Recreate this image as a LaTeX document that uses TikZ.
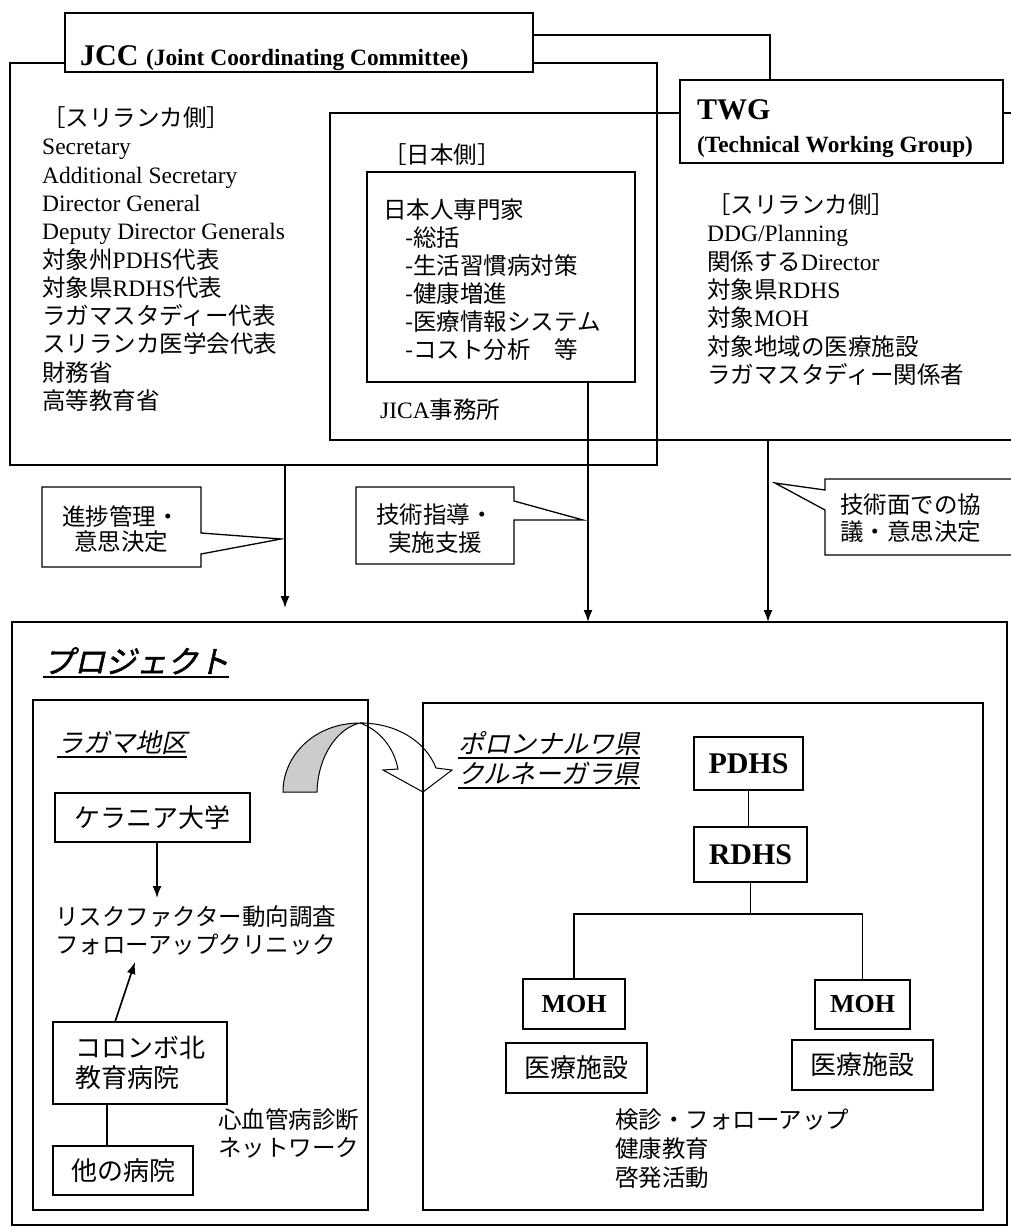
\documentclass[tikz,border=0pt]{standalone}
\usepackage{fontspec}
\setmainfont{Liberation Serif}
\newfontfamily\cjkfont{Noto Sans CJK JP}
\newfontfamily\cjkitfont[FakeSlant=0.22]{Noto Sans CJK JP}
\newfontfamily\cjkbifont[FakeSlant=0.22,FakeBold=1.5]{Noto Sans CJK JP}
\newcommand\cj[1]{{\cjkfont #1}}
\usetikzlibrary{arrows.meta,calc}
\tikzset{
  rbox/.style={draw, line width=1.3pt, inner sep=0pt, outer sep=0pt, anchor=north west},
  lst/.style={anchor=base west, inner sep=0pt, font=\fontsize{23.5}{28}\selectfont},
  ctr/.style={anchor=base, inner sep=0pt, font=\fontsize{23.5}{28}\selectfont},
  bigtxt/.style={font=\fontsize{26}{30}\selectfont\cjkfont},
  arr/.style={line width=1.6pt, -{Latex[length=12pt,width=9pt]}},
  conn/.style={line width=1.2pt},
  thin/.style={line width=1.1pt},
  callout/.style={line width=1.3pt, line join=miter},
}
\begin{document}
\begin{tikzpicture}[x=1pt,y=-1pt]
\fill[white] (0,0) rectangle (1011,1228);
\useasboundingbox (0,0) rectangle (1011,1228);

% ---------- upper part: JCC / TWG ----------
\node[rbox, minimum width=647pt, minimum height=402pt] (jccO) at (10,63) {};
\node[rbox, minimum width=684pt, minimum height=327pt] (twgO) at (330,113) {};
\node[rbox, minimum width=268pt, minimum height=210pt] (jp) at (367,172) {};
\node[rbox, fill=white, minimum width=468pt, minimum height=59pt] (jccT) at (65,13) {};
\node[anchor=base west, inner sep=0pt] (jccL) at (80,66)
  {\bfseries\fontsize{30}{30}\selectfont JCC\ \fontsize{23.4}{24}\selectfont (Joint Coordinating Committee)};
\node[rbox, fill=white, minimum width=323pt, minimum height=83pt] (twgT) at (680,80) {};
\node[anchor=base west, inner sep=0pt, font=\bfseries\fontsize{30}{30}\selectfont] (twgL1) at (697,120) {TWG};
\node[anchor=base west, inner sep=0pt, font=\bfseries\fontsize{23.3}{24}\selectfont] (twgL2) at (697,152) {(Technical Working Group)};

\coordinate (tw) at (770,80);
\draw[conn] ($(jccT.north east)+(0,22)$) -| (tw);

% JCC list
\foreach \t [count=\i from 0] in {
  \cj{［スリランカ側］},
  Secretary,
  Additional Secretary,
  Director General,
  Deputy Director Generals,
  \cj{対象州}PDHS\cj{代表},
  \cj{対象県}RDHS\cj{代表},
  \cj{ラガマスタディー代表},
  \cj{スリランカ医学会代表},
  \cj{財務省},
  \cj{高等教育省}}
  \node[lst] (jl\i) at (42,126.5+28.3*\i) {\t};

% Japan side
\node[lst] (jph) at (383,163.5) {\cj{［日本側］}};
\node[lst] (jp0) at (383,218.5) {\cj{日本人専門家}};
\foreach \t [count=\i from 1] in {
  \cj{-総括},
  \cj{-生活習慣病対策},
  \cj{-健康増進},
  \cj{-医療情報システム},
  \cj{-コスト分析　等}}
  \node[lst] (jp\i) at (405,218.5+28*\i) {\t};
\node[lst] (jica) at (380,418.5) {JICA\cj{事務所}};

% TWG list
\foreach \t [count=\i from 0] in {
  \cj{［スリランカ側］},
  DDG/Planning,
  \cj{関係する}Director,
  \cj{対象県}RDHS,
  \cj{対象}MOH,
  \cj{対象地域の医療施設},
  \cj{ラガマスタディー関係者}}
  \node[lst] (tl\i) at (707,213.5+28.3*\i) {\t};

% ---------- project ----------
\node[rbox, minimum width=995pt, minimum height=603pt] (proj) at (12,622) {};
\node[rbox, minimum width=335pt, minimum height=510pt] (lsub) at (33,700) {};
\node[rbox, minimum width=560pt, minimum height=507pt] (rsub) at (423,703) {};

% arrows from upper part
\coordinate (a1) at (285,608);
\coordinate (a2) at (588,0);
\coordinate (a3) at (768,0);
\draw[arr] (a1 |- jccO.south) -- (a1);
\draw[arr] (a2 |- jp.south) -- (a2 |- proj.north);
\draw[arr] (a3 |- twgO.south) -- (a3 |- proj.north);

% callouts
\draw[callout] (42,487) -- (201,487) -- (201,533) -- (281,539) -- (201,554) -- (201,567) -- (42,567) -- cycle;
\node[ctr] (c1a) at (121,525.5) {\cj{進捗管理・}};
\node[ctr] (c1b) at (121,550.5) {\cj{意思決定}};
\draw[callout] (356,487) -- (514,487) -- (514,501) -- (583,520) -- (514,520) -- (514,564) -- (356,564) -- cycle;
\node[ctr] (c2a) at (435,523.5) {\cj{技術指導・}};
\node[ctr] (c2b) at (435,551.5) {\cj{実施支援}};
\draw[callout] (1014,479) -- (825,479) -- (825,490) -- (775,483) -- (825,510) -- (825,555) -- (1014,555);
\node[lst] (c3a) at (840,513.5) {\cj{技術面での協}};
\node[lst] (c3b) at (840,540.5) {\cj{議・意思決定}};

% project title
\node[anchor=base west, inner sep=0pt, font=\fontsize{31}{32}\selectfont\cjkbifont] (pj) at (43,673) {プロジェクト};
\draw[thin] ([yshift=-4pt]pj.base west) -- ([yshift=-4pt]pj.base east);

% left sub area
\node[anchor=base west, inner sep=0pt, font=\fontsize{26}{30}\selectfont\cjkitfont] (rag) at (57,752) {ラガマ地区};
\draw[thin] ([yshift=-5pt]rag.base west) -- ([yshift=-5pt]rag.base east);
\node[rbox, bigtxt, minimum width=195pt, minimum height=49pt] (kel) at (55,793) {ケラニア大学};
\node[lst] (risk1) at (55,925.5) {\cj{リスクファクター動向調査}};
\node[lst] (risk2) at (55,953.5) {\cj{フォローアップクリニック}};
\coordinate (k1) at (157,898);
\draw[arr] (k1 |- kel.south) -- (k1);
\node[rbox, bigtxt, align=left, minimum width=174pt, minimum height=82pt] (colb) at (53,1022) {コロンボ北\\教育病院};
\coordinate (c2) at (135,962);
\draw[arr] ($(colb.north)+(-25,0)$) -- (c2);
\node[rbox, bigtxt, minimum width=140pt, minimum height=49pt] (oth) at (53,1146) {他の病院};
\coordinate (n1) at (107,0);
\draw[thin] (n1 |- colb.south) -- (n1 |- oth.north);
\node[lst] (net1) at (218,1128.5) {\cj{心血管病診断}};
\node[lst] (net2) at (218,1156.5) {\cj{ネットワーク}};

% curved block arrow
\filldraw[fill=gray!40, line width=1pt] (283,792) .. controls (283,755) and (315,723) .. (360,723)
  .. controls (338,728) and (318,755) .. (317,792) -- cycle;
\draw[line width=1pt, line join=miter] (360,723) .. controls (395,723) and (425,740) .. (436,768)
  -- (452,770) -- (423,792) -- (383,770) -- (398,769)
  .. controls (394,748) and (380,730) .. (360,723);

% right sub area
\node[anchor=base west, inner sep=0pt, font=\fontsize{26}{30}\selectfont\cjkitfont] (bol1) at (458,753) {ポロンナルワ県};
\draw[thin] ([yshift=-5pt]bol1.base west) -- ([yshift=-5pt]bol1.base east);
\node[anchor=base west, inner sep=0pt, font=\fontsize{26}{30}\selectfont\cjkitfont] (bol2) at (458,783) {クルネーガラ県};
\draw[thin] ([yshift=-5pt]bol2.base west) -- ([yshift=-5pt]bol2.base east);

\node[rbox, font=\bfseries\fontsize{30}{30}\selectfont, minimum width=109pt, minimum height=53pt] (pdhs) at (694,737) {PDHS};
\node[rbox, font=\bfseries\fontsize{30}{30}\selectfont, minimum width=113pt, minimum height=55pt] (rdhs) at (694,827) {RDHS};
\node[rbox, font=\bfseries\fontsize{26}{26}\selectfont, minimum width=102pt, minimum height=50pt] (moh1) at (523,979) {MOH};
\node[rbox, font=\bfseries\fontsize{26}{26}\selectfont, minimum width=95pt, minimum height=49pt] (moh2) at (815,980) {MOH};
\node[rbox, bigtxt, minimum width=141pt, minimum height=50pt] (fac1) at (506,1043) {医療施設};
\node[rbox, bigtxt, minimum width=141pt, minimum height=50pt] (fac2) at (792,1040) {医療施設};

\draw[thin] (pdhs.south) -- (pdhs.south |- rdhs.north);
\draw[thin] (rdhs.south) -- ++(0,32) coordinate (br);
\draw[thin] (br) -| (moh1.north);
\draw[thin] (br) -| (moh2.north);

\node[lst] (act1) at (615,1128.5) {\cj{検診・フォローアップ}};
\node[lst] (act2) at (615,1157.5) {\cj{健康教育}};
\node[lst] (act3) at (615,1186.5) {\cj{啓発活動}};
\end{tikzpicture}
\end{document}
